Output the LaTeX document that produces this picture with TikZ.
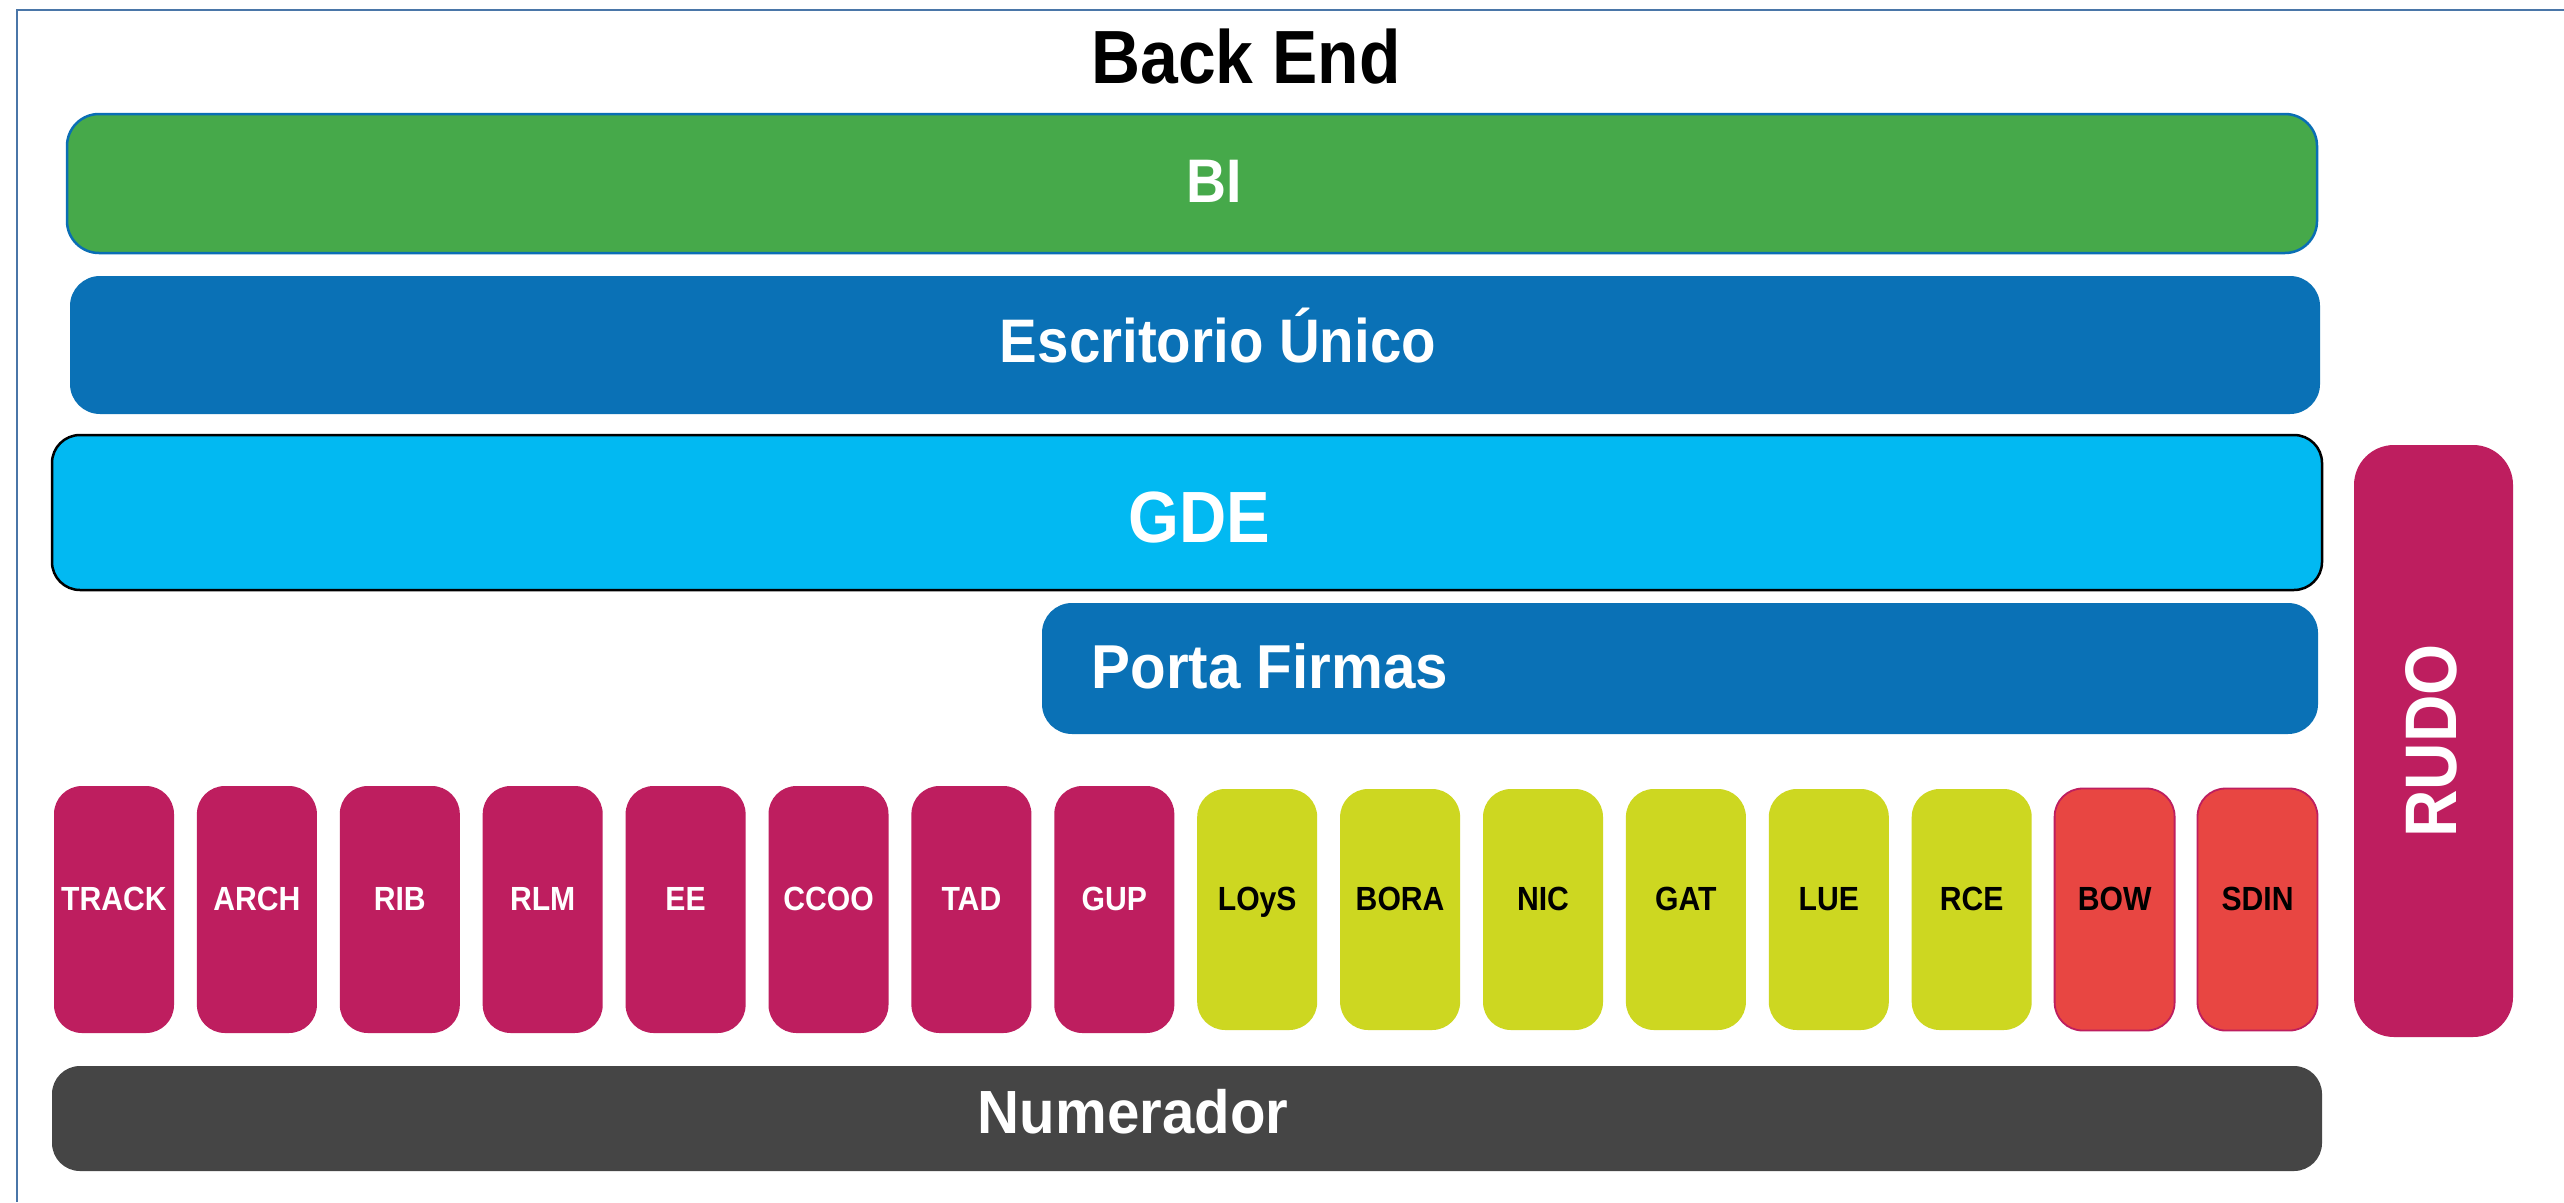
\documentclass[tikz,border=0pt]{standalone}
\usepackage{fontspec}
\usepackage{graphicx}
\setmainfont{Liberation Sans}[FakeStretch=0.9]
\definecolor{framec}{HTML}{4A76A8}
\definecolor{bigreen}{HTML}{46A94A}
\definecolor{bordblue}{HTML}{0A6EB4}
\definecolor{escblue}{HTML}{0A71B6}
\definecolor{gdecyan}{HTML}{02B9F2}
\definecolor{mag}{HTML}{BE1E5F}
\definecolor{ylw}{HTML}{CDD721}
\definecolor{redb}{HTML}{E84642}
\definecolor{numgray}{HTML}{454545}
\tikzset{
  boxbase/.style={rectangle, inner sep=0pt, outer sep=0pt},
  lbl/.style={anchor=base, inner sep=0pt, font=\bfseries\fontsize{#1}{#1}\selectfont},
  magbox/.style={boxbase, fill=mag, minimum width=120pt, minimum height=247pt, rounded corners=28pt},
  ylwbox/.style={boxbase, fill=ylw, minimum width=120pt, minimum height=241pt, rounded corners=28pt},
  redbox/.style={boxbase, fill=redb, draw=mag, line width=1.8pt, minimum width=120pt, minimum height=242pt, rounded corners=28pt}
}
\begin{document}
\begin{tikzpicture}[x=1pt,y=-1pt]
\useasboundingbox (0,0) rectangle (2564,1202);
\fill[white] (0,0) rectangle (2564,1202);
% outer frame (only top and left edges visible)
\coordinate (fr1) at (2564,10);
\coordinate (fr2) at (17,10);
\coordinate (fr3) at (17,1202);
\draw[framec, line width=2.5pt] (fr1) -- (fr2) -- (fr3);

% title
\node[lbl=75.4, text=black] (title) at (1246,83) {Back End};

% BI
\node[boxbase, fill=bigreen, draw=bordblue, line width=2.5pt, minimum width=2250pt, minimum height=139pt, rounded corners=32pt] (bi) at (1192,183.5) {};
\node[lbl=61.5, text=white] (bit) at (1214,202) {BI};

% Escritorio Unico
\node[boxbase, fill=escblue, minimum width=2250pt, minimum height=138pt, rounded corners=30pt] (esc) at (1195,345) {};
\node[lbl=61.5, text=white] (esct) at (1218,362) {\scalebox{1.02}[1]{Escritorio Único}};

% GDE
\node[boxbase, fill=gdecyan, draw=black, line width=2.5pt, minimum width=2270pt, minimum height=155pt, rounded corners=28pt] (gde) at (1187,512.5) {};
\node[lbl=72.6, text=white] (gdet) at (1199,542) {GDE};

% Porta Firmas
\node[boxbase, fill=escblue, minimum width=1276pt, minimum height=131pt, rounded corners=30pt] (pf) at (1680,668.5) {};
\node[lbl=62, text=white] (pft) at (1270,688) {\scalebox{1.045}[1]{Porta Firmas}};

% small boxes
\foreach \txt/\sty/\tc [count=\i from 0] in {TRACK/magbox/white, ARCH/magbox/white, RIB/magbox/white, RLM/magbox/white, EE/magbox/white, CCOO/magbox/white, TAD/magbox/white, GUP/magbox/white, LOyS/ylwbox/black, BORA/ylwbox/black, NIC/ylwbox/black, GAT/ylwbox/black, LUE/ylwbox/black, RCE/ylwbox/black, BOW/redbox/black, SDIN/redbox/black}{
  \pgfmathsetmacro{\cx}{114+142.9*\i}
  \node[\sty] (s\i) at (\cx, 909.5) {};
  \node[lbl=33.5, text=\tc] (s\i t) at (\cx, 910) {\txt};
}

% RUDO
\node[boxbase, fill=mag, minimum width=159pt, minimum height=592pt, rounded corners=40pt] (rudo) at (2433.5,741) {};
\node[inner sep=0pt, rotate=90, font=\bfseries\fontsize{73}{73}\selectfont, text=white] (rudot) at (2431,741) {RUDO};

% Numerador
\node[boxbase, fill=numgray, minimum width=2270pt, minimum height=105pt, rounded corners=28pt] (num) at (1187,1118.5) {};
\node[lbl=61, text=white] (numt) at (1133,1133) {\scalebox{1.06}[1]{Numerador}};
\end{tikzpicture}
\end{document}
